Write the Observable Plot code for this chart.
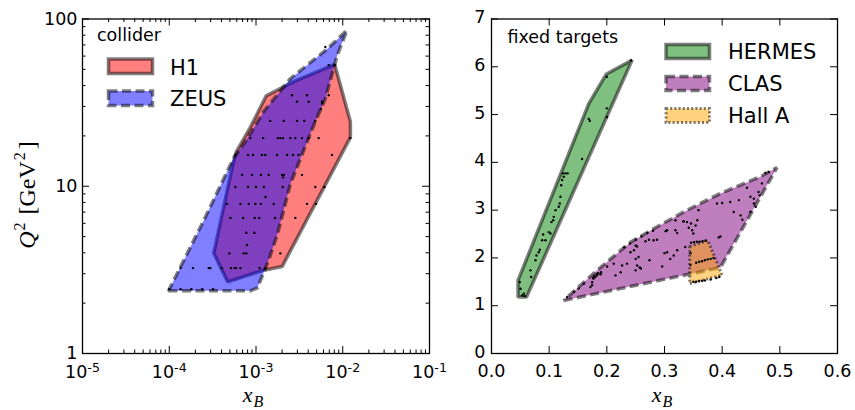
<!DOCTYPE html>
<html><head><meta charset="utf-8">
<script src="https://cdn.jsdelivr.net/npm/d3@7"></script>
<script src="https://cdn.jsdelivr.net/npm/@observablehq/plot@0.6"></script>
<style>
body{margin:0;background:#fff;}
#wrap{position:relative;width:855px;height:410px;overflow:hidden;background:#fff;}
#wrap > svg{position:absolute;top:0;}
</style></head><body><div id="wrap"></div>
<script>
// ---------- LEFT PANEL (collider) ----------
const h1X   = [8.07e-3, 1.225e-2, 1.225e-2, 2.0e-3, 1.23e-3, 4.72e-4, 3.26e-4, 5.4e-4, 5.9e-4, 8.6e-4, 1.31e-3, 2.72e-3];
const h1Q2  = [53.5, 24.4, 19.6, 3.31, 3.15, 2.68, 3.98, 13.5, 16, 22.5, 34.7, 42.2];
const zeusX = [9.8e-5, 8.6e-4, 1.04e-3, 1.39e-3, 1.77e-3, 2.49e-3, 3.52e-3, 4.83e-3, 6.3e-3, 8.67e-3, 1.12e-2, 6.65e-3, 2.49e-3, 1.22e-3, 7.55e-4, 5.5e-4, 2.48e-4];
const zeusQ2 = [2.37, 2.37, 2.47, 3.58, 5.18, 10.3, 16.2, 24.4, 33.4, 61, 85.7, 66.3, 44, 27.9, 18.5, 14.7, 6.19];

const colliderX = [
  6.3e-3,
  6.88e-3, 8.07e-3,
  2.6e-3, 3.87e-3, 6.88e-3,
  2.97e-3, 4.05e-3, 5.77e-3,
  5.6e-3, 5.8e-3,
  1.46e-3, 2.09e-3, 2.97e-3, 3.6e-3, 4.83e-3,
  8.61e-4, 1.21e-3, 1.78e-3, 1.91e-3, 2.05e-3, 2.49e-3, 2.84e-3, 3.39e-3, 4.05e-3, 5.28e-3, 1.22e-2,
  5.79e-4, 8.1e-4, 9.24e-4, 1.17e-3, 1.28e-3, 1.75e-3, 2.28e-3, 2.67e-3, 3.1e-3, 7.52e-3,
  6.91e-4, 9.0e-4, 1.14e-3, 1.4e-3, 2.0e-3, 2.09e-3, 3.39e-3,
  2.05e-3,
  5.79e-4, 8.1e-4, 1.0e-3, 1.23e-3, 2.03e-3, 4.83e-3, 6.14e-3,
  1.29e-3,
  4.63e-4, 6.61e-4, 8.24e-4, 9.84e-4, 1.14e-3, 1.6e-3, 3.87e-3, 4.92e-3,
  5.07e-4, 7.1e-4, 9.66e-4, 1.09e-3, 1.66e-3, 2.84e-3,
  7.74e-4, 9.58e-4,
  7.88e-4,
  4.93e-4, 7.22e-4, 7.74e-4, 1.91e-3,
  1.35e-4, 1.88e-4, 2.85e-4, 2.98e-4, 4.03e-4, 5.16e-4, 5.69e-4, 5.89e-4, 6.61e-4, 1.10e-3, 1.28e-3,
  1.0e-4, 1.35e-4, 1.8e-4, 2.4e-4, 3.2e-4
];
const colliderQ2 = [
  68,
  53, 53,
  35, 35, 35,
  32, 32, 32,
  29, 31.5,
  24.6, 24.6, 24.6, 24.6, 24.6,
  19.4, 19.4, 19.4, 19.4, 19.4, 19.4, 19.4, 19.4, 19.4, 19.4, 19.4,
  15.4, 15.4, 15.4, 15.4, 15.4, 15.4, 15.4, 15.4, 15.4, 15.4,
  11.7, 11.7, 11.7, 11.7, 11.7, 11.7, 11.7,
  11.3,
  9.9, 9.9, 9.9, 9.9, 9.9, 9.9, 9.9,
  8.63,
  7.85, 7.85, 7.85, 7.85, 7.85, 7.85, 7.85, 7.85,
  6.47, 6.47, 6.47, 6.47, 6.47, 6.47,
  5.27, 5.27,
  4.45,
  3.97, 3.97, 3.97, 3.97,
  3.24, 3.24, 3.24, 3.24, 3.24, 3.24, 3.24, 3.24, 3.24, 3.24, 3.24,
  2.42, 2.42, 2.42, 2.42, 2.42
];
const logXTicks = [1e-5, 1e-4, 1e-3, 1e-2, 1e-1];
const logXTickLabels = ["10|-5", "10|-4", "10|-3", "10|-2", "10|-1"];
const logYTicks = [1, 10, 100];
const logYTickLabels = ["1", "10", "100"];

// ---------- RIGHT PANEL (fixed targets) ----------
const hermesX  = [0.046, 0.046, 0.0607, 0.2438, 0.1993, 0.1687];
const hermesQ2 = [1.53, 1.18, 1.18, 6.14, 5.85, 5.23];
const clasX  = [0.1253, 0.342, 0.397, 0.495, 0.466, 0.397, 0.339, 0.281, 0.241, 0.183];
const clasQ2 = [1.11, 1.66, 1.80, 3.89, 3.70, 3.35, 3.0, 2.61, 2.33, 1.74];
const hallAX  = [0.3437, 0.375, 0.40, 0.3437];
const hallAQ2 = [2.24, 2.37, 1.64, 1.46];

const hermesPtsX = [0.049,0.0503,0.0532,0.0578,0.056,0.0676,0.0688,0.0763,0.078,0.082,0.0838,0.0879,0.0896,0.0936,0.0993,0.1023,0.104,0.107,0.108,0.111,0.1166,0.1184,0.1196,0.1208,0.1225,0.1236,0.128,0.132,0.1253,0.157,0.1686,0.1704,0.2,0.2,0.2,0.242];
const hermesPtsQ2 = [1.495,1.356,1.216,1.20,1.25,1.74,1.60,1.95,2.05,2.12,2.17,2.37,2.49,2.37,2.54,2.51,2.75,2.79,2.86,3.0,3.07,3.14,3.28,3.52,3.63,3.77,3.77,3.77,3.70,4.07,4.91,4.87,5.13,4.95,5.79,6.13];
const clasPtsX = [0.475,0.481,0.469,0.443,0.449,0.455,0.463,0.465,0.429,0.432,0.435,0.449,0.455,0.458,0.414,0.42,0.40,0.391,0.359,0.333,0.339,0.346,0.354,0.357,0.348,0.342,0.319,0.322,0.302,0.3045,0.397,0.394,0.336,0.30,0.3045,0.322,0.31,0.273,0.267,0.281,0.287,0.25,0.2525,0.247,0.241,0.274,0.25,0.255,0.2525,0.257,0.25,0.259,0.235,0.2265,0.212,0.215,0.224,0.2005,0.183,0.18,0.177,0.1745,0.1716,0.183,0.189,0.1745,0.16,0.151,0.143,0.131,0.296,0.316,0.178,0.182,0.185,0.19,0.176,0.23,0.24,0.25,0.26,0.27,0.28,0.319,0.333,0.35];
const clasPtsQ2 = [3.78,3.80,3.56,3.47,3.28,3.24,3.38,3.31,3.21,2.89,2.80,2.96,3.14,3.07,3.17,2.96,3.15,3.14,3.0,2.77,2.75,2.72,2.68,2.79,2.58,2.63,2.58,2.52,2.56,2.58,2.45,2.43,2.23,2.10,2.12,2.16,1.98,2.38,2.35,2.37,2.38,2.26,2.24,2.16,2.12,1.95,1.98,2.02,1.84,1.80,1.74,1.78,1.88,1.84,1.88,1.635,1.70,1.82,1.67,1.60,1.57,1.49,1.39,1.635,1.66,1.43,1.46,1.36,1.29,1.18,1.82,2.05,1.62,1.65,1.68,1.70,1.58,2.22,2.30,2.38,2.45,2.52,2.57,2.79,2.76,2.51];
const hallAPtsX = [0.346,0.351,0.356,0.361,0.366,0.371,0.355,0.36,0.365,0.37,0.375,0.38,0.385,0.35,0.355,0.36,0.365,0.37,0.38,0.39,0.395,0.345,0.345];
const hallAPtsQ2 = [2.32,2.33,2.34,2.34,2.35,2.36,1.90,1.92,1.93,1.95,1.97,1.98,2.00,1.50,1.50,1.52,1.52,1.53,1.55,1.58,1.60,2.10,1.85];
const linXTicks = [0, 0.1, 0.2, 0.3, 0.4, 0.5, 0.6];
const linYTicks = [0, 1, 2, 3, 4, 5, 6, 7];

// ---------- helpers ----------
const pts = (xs, ys) => xs.map((x, i) => ({x, y: ys[i]}));
const H = 410, mT = 18.5, mB = 57;
const innerH = H - mT - mB;
const fontFam = "'DejaVu Sans', sans-serif";
const polyStyle = {x: "x", y: "y", curve: "linear-closed", fillOpacity: 0.5, stroke: "black", strokeOpacity: 0.5, strokeWidth: 3.5, strokeLinejoin: "miter", strokeLinecap: "butt"};
const minorLog = (lo, hi) => { const out = []; for (let e = lo; e < hi; e++) for (let k = 2; k <= 9; k++) out.push(k * Math.pow(10, e)); return out; };
function frameTicks(xs, ys, innerW, len) {
  return [
    Plot.tickX(xs, {x: d => d, insetTop: innerH - len, stroke: "black", strokeWidth: 1}),
    Plot.tickX(xs, {x: d => d, insetBottom: innerH - len, stroke: "black", strokeWidth: 1}),
    Plot.tickY(ys, {y: d => d, insetRight: innerW - len, stroke: "black", strokeWidth: 1}),
    Plot.tickY(ys, {y: d => d, insetLeft: innerW - len, stroke: "black", strokeWidth: 1})
  ];
}

// ---------- left plot ----------
const W1 = 440, mL1 = 82, mR1 = 11, innerW1 = W1 - mL1 - mR1;
const left = Plot.plot({
  width: W1, height: H, marginLeft: mL1, marginRight: mR1, marginTop: mT, marginBottom: mB,
  style: {background: "none", overflow: "visible", fontFamily: fontFam, fontSize: "17.5px", color: "black"},
  x: {type: "log", domain: [1e-5, 1e-1], label: null},
  y: {type: "log", domain: [1, 100], label: null},
  marks: [
    Plot.line(pts(h1X, h1Q2), {...polyStyle, fill: "red"}),
    Plot.line(pts(zeusX, zeusQ2), {...polyStyle, fill: "blue", strokeDasharray: "9,4.5"}),
    Plot.dot(pts(colliderX, colliderQ2), {x: "x", y: "y", r: 1.2, fill: "black"}),
    ...frameTicks(logXTicks, logYTicks, innerW1, 7),
    ...frameTicks(minorLog(-5, -1), minorLog(0, 2), innerW1, 3.5),
    Plot.frame({stroke: "black", strokeWidth: 1.3}),
    Plot.axisX(logXTicks, {tickSize: 0, tickPadding: 12, fontSize: 17.5, tickFormat: d => logXTickLabels[logXTicks.indexOf(d)], label: null}),
    Plot.axisY(logYTicks, {tickSize: 0, tickPadding: 5, fontSize: 17.5, tickFormat: d => logYTickLabels[logYTicks.indexOf(d)], label: null})
  ]
});
left.style.left = "0px";
// superscripts for log labels
left.querySelectorAll('[aria-label="x-axis tick label"] text').forEach(t => {
  const s = t.textContent;
  if (s.includes("|")) {
    const [base, exp] = s.split("|");
    t.textContent = base;
    const ts = document.createElementNS("http://www.w3.org/2000/svg", "tspan");
    ts.setAttribute("dy", "-0.45em");
    ts.setAttribute("font-size", "0.72em");
    ts.textContent = exp;
    t.appendChild(ts);
  }
});

// ---------- right plot ----------
const W2 = 415, mL2 = 51, mR2 = 18, innerW2 = W2 - mL2 - mR2;
const right = Plot.plot({
  width: W2, height: H, marginLeft: mL2, marginRight: mR2, marginTop: mT, marginBottom: mB,
  style: {background: "none", overflow: "visible", fontFamily: fontFam, fontSize: "17.5px", color: "black"},
  x: {domain: [0, 0.6], label: null},
  y: {domain: [0, 7], label: null},
  marks: [
    Plot.line(pts(hermesX, hermesQ2), {...polyStyle, fill: "green"}),
    Plot.line(pts(clasX, clasQ2), {...polyStyle, fill: "purple", strokeDasharray: "9,4.5"}),
    Plot.line(pts(hallAX, hallAQ2), {...polyStyle, fill: "orange", strokeWidth: 3, strokeDasharray: "2,2.2"}),
    Plot.dot(pts(hermesPtsX, hermesPtsQ2), {x: "x", y: "y", r: 1.2, fill: "black"}),
    Plot.dot(pts(clasPtsX, clasPtsQ2), {x: "x", y: "y", r: 1.2, fill: "black"}),
    Plot.dot(pts(hallAPtsX, hallAPtsQ2), {x: "x", y: "y", r: 1.2, fill: "black"}),
    ...frameTicks(linXTicks, linYTicks, innerW2, 7),
    Plot.frame({stroke: "black", strokeWidth: 1.3}),
    Plot.axisX(linXTicks, {tickSize: 0, tickPadding: 11, fontSize: 17.5, tickFormat: d3.format(".1f"), label: null}),
    Plot.axisY(linYTicks, {tickSize: 0, tickPadding: 6, dy: -1.5, fontSize: 17.5, tickFormat: d => String(d), label: null})
  ]
});
right.style.left = "440px";

const wrap = document.getElementById("wrap");
wrap.appendChild(left);
wrap.appendChild(right);

// ---------- overlay: legends and axis titles ----------
const ns = "http://www.w3.org/2000/svg";
const ov = document.createElementNS(ns, "svg");
ov.setAttribute("width", 855); ov.setAttribute("height", 410);
ov.style.left = "0px"; ov.style.pointerEvents = "none";
ov.innerHTML = `
<g font-family="'DejaVu Sans', sans-serif" fill="black">
  <text x="97" y="40.5" font-size="17.5">collider</text>
  <rect x="108.5" y="59" width="44" height="14.5" fill="red" fill-opacity="0.5" stroke="black" stroke-opacity="0.5" stroke-width="3.5"/>
  <text x="170" y="74.5" font-size="21">H1</text>
  <rect x="108.5" y="91" width="44" height="14.5" fill="blue" fill-opacity="0.5" stroke="black" stroke-opacity="0.5" stroke-width="3.5" stroke-dasharray="9,4.5"/>
  <text x="170" y="106" font-size="21">ZEUS</text>

  <text x="507.5" y="42.5" font-size="17.5">fixed targets</text>
  <rect x="666" y="44.5" width="43.5" height="14" fill="green" fill-opacity="0.5" stroke="black" stroke-opacity="0.5" stroke-width="3.5"/>
  <text x="728" y="59" font-size="21">HERMES</text>
  <rect x="666" y="76.5" width="43.5" height="14" fill="purple" fill-opacity="0.5" stroke="black" stroke-opacity="0.5" stroke-width="3.5" stroke-dasharray="9,4.5"/>
  <text x="728" y="90.7" font-size="21">CLAS</text>
  <rect x="666" y="108.5" width="43.5" height="14" fill="orange" fill-opacity="0.5" stroke="black" stroke-opacity="0.5" stroke-width="3" stroke-dasharray="2,2.2"/>
  <text x="728" y="122.7" font-size="21">Hall A</text>
</g>
<g font-family="'Liberation Serif', 'DejaVu Serif', serif" fill="black" font-size="24">
  <text x="253" y="402" font-size="22" text-anchor="middle"><tspan font-style="italic">x</tspan><tspan font-style="italic" font-size="16" dy="5" dx="1">B</tspan></text>
  <text x="662" y="402" font-size="22" text-anchor="middle"><tspan font-style="italic">x</tspan><tspan font-style="italic" font-size="16" dy="5" dx="1">B</tspan></text>
  <text transform="translate(35,195) rotate(-90)" text-anchor="middle"><tspan font-style="italic">Q</tspan><tspan font-size="16" dy="-10" dx="1">2</tspan><tspan dy="10" dx="8">[GeV</tspan><tspan font-size="16" dy="-10" dx="1">2</tspan><tspan dy="10" dx="3">]</tspan></text>
</g>`;
wrap.appendChild(ov);
</script></body></html>
